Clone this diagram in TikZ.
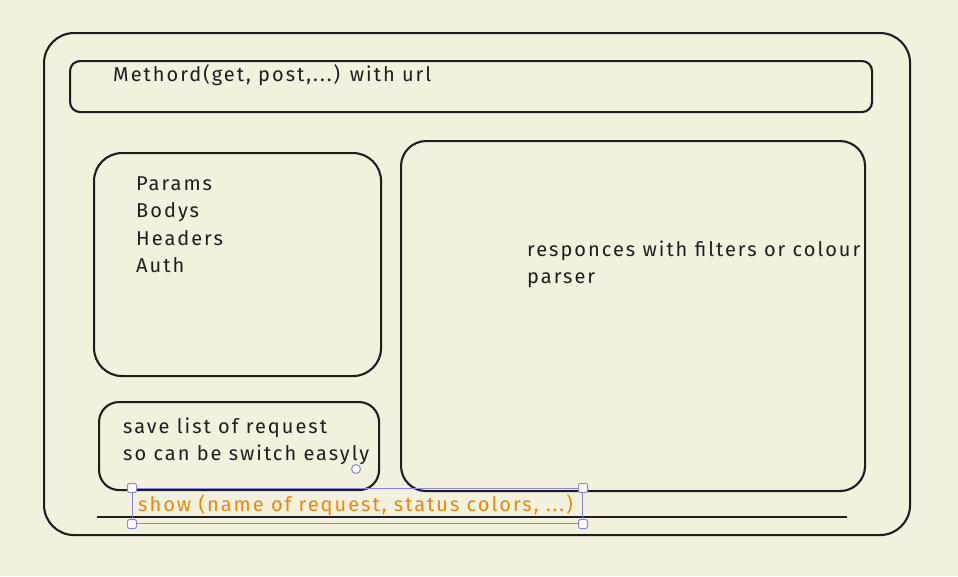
\documentclass[tikz,border=0pt]{standalone}
\usepackage{fontspec}
\setmainfont[LetterSpace=10]{Fira Sans}
\definecolor{bg}{HTML}{F4F0DE}
\definecolor{ink}{HTML}{1E1E1E}
\definecolor{sel}{HTML}{8A86E0}
\definecolor{orange}{HTML}{E8890C}
\begin{document}
\begin{tikzpicture}[x=1pt,y=-1pt,
  box/.style={draw=ink, line width=2.1pt, rectangle, anchor=north west, inner sep=0pt},
  txt/.style={anchor=base west, inner sep=0pt, text=ink, font=\fontsize{20}{27.5}\selectfont},
  handle/.style={draw=sel, fill=white, line width=1pt, rectangle, rounded corners=2pt, minimum size=9pt, inner sep=0pt}
]
\useasboundingbox[fill=bg] (0,0) rectangle (958,576);
% boxes
\node[box, rounded corners=30pt, minimum width=866pt, minimum height=502pt] (outer) at (43,32) {};
\node[box, rounded corners=10pt, minimum width=802pt, minimum height=51pt] (top) at (69,60) {};
\node[box, rounded corners=28pt, minimum width=287pt, minimum height=223pt] (params) at (93,152) {};
\node[box, rounded corners=25pt, minimum width=464pt, minimum height=350pt] (resp) at (400,140) {};
\node[box, rounded corners=20pt, minimum width=280pt, minimum height=88pt] (save) at (98,401) {};
\coordinate (la) at (97,517);
\coordinate (lb) at (847,517);
\draw[ink, line width=2.1pt] (la) -- (lb);
% texts
\node[txt] (t1) at (113,81) {Methord(get, post,...) with url};
\node[txt] (p1) at (136,190) {Params};
\node[txt] (p2) at (136,217) {Bodys};
\node[txt] (p3) at (136,245) {Headers};
\node[txt] (p4) at (136,272) {Auth};
\node[txt] (r1) at (527,256) {responces with filters or colour};
\node[txt] (r2) at (527,283) {parser};
\node[txt] (s1) at (123,433) {save list of request};
\node[txt] (s2) at (123,460) {so can be switch easyly};
% selection
\node[draw=sel, line width=1pt, rectangle, anchor=north west, minimum width=450pt, minimum height=35pt, inner sep=0pt] (selbox) at (132,488) {};
\node[txt, text=orange] (show) at (138,511) {show (name of request, status colors, ...)};
\node[handle] (h1) at (selbox.north west) {};
\node[handle] (h2) at (selbox.north east) {};
\node[handle] (h3) at (selbox.south west) {};
\node[handle] (h4) at (selbox.south east) {};
\node[draw=sel, fill=white, line width=1pt, circle, minimum size=9pt, inner sep=0pt] (rot) at (356,469) {};
\end{tikzpicture}
\end{document}
